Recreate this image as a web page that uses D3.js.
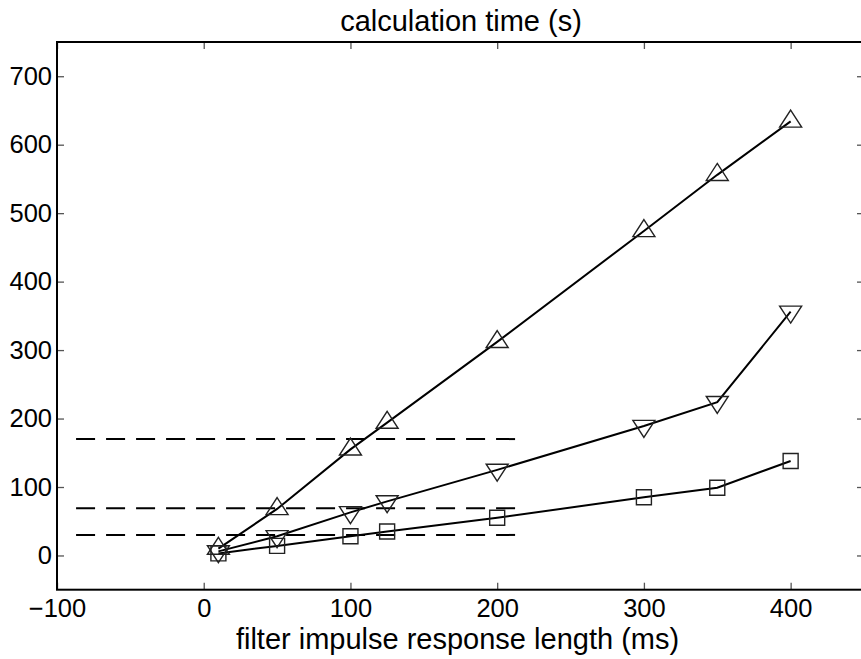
<!DOCTYPE html>
<html>
<head>
<meta charset="utf-8">
<script src="https://cdn.jsdelivr.net/npm/d3@7"></script>
<style>
  html, body { margin: 0; padding: 0; background: #fff; }
  svg { display: block; }
</style>
</head>
<body>
<div id="chart"></div>
<script>
// filter lengths (ms) and calculation times (s)
const lengthsMs = [10, 50, 100, 125, 200, 300, 350, 400];
const timesUp = [10, 68, 155, 194, 312, 474, 556, 634];
const timesDown = [6, 28, 63, 79, 125, 189, 224, 356];
const timesSquare = [3, 14, 28, 35, 55, 85, 99, 138];

// dashed reference levels and their horizontal extent
const dashLevels = [170, 69, 30];
const dashSpan = [-87, 217];

const xTicks = [-100, 0, 100, 200, 300, 400];
const yTicks = [0, 100, 200, 300, 400, 500, 600, 700];

const size = { width: 861, height: 659 };
const box = { left: 57, top: 42, right: 864, bottom: 589.7 };
const font = "'Liberation Sans', Arial, Helvetica, sans-serif";

const svg = d3
  .select("#chart")
  .append("svg")
  .attr("width", size.width)
  .attr("height", size.height);

const x = d3.scaleLinear().domain([-100, 450]).range([box.left, box.right]);
const y = d3.scaleLinear().domain([-50, 750]).range([box.bottom, box.top]);

// ticks on all four sides, pointing inward
const tickLen = 7;
const tickColor = "#555";

svg
  .append("g")
  .attr("transform", `translate(0, ${box.bottom})`)
  .call(
    d3.axisBottom(x).tickValues(xTicks).tickSize(-tickLen).tickPadding(9)
  )
  .call((g) => g.select(".domain").remove())
  .call((g) => g.selectAll("line").attr("stroke", tickColor).attr("stroke-width", 1.3))
  .call((g) =>
    g.selectAll("text").style("font-family", font).style("font-size", "25.5px").attr("fill", "#000")
  );

svg
  .append("g")
  .attr("transform", `translate(0, ${box.top})`)
  .call(d3.axisTop(x).tickValues(xTicks).tickSize(-tickLen).tickFormat(""))
  .call((g) => g.select(".domain").remove())
  .call((g) => g.selectAll("line").attr("stroke", tickColor).attr("stroke-width", 1.3));

svg
  .append("g")
  .attr("transform", `translate(${box.left}, 0)`)
  .call(d3.axisLeft(y).tickValues(yTicks).tickSize(-tickLen).tickPadding(5))
  .call((g) => g.select(".domain").remove())
  .call((g) => g.selectAll("line").attr("stroke", tickColor).attr("stroke-width", 1.3))
  .call((g) =>
    g.selectAll("text").style("font-family", font).style("font-size", "25.5px").attr("fill", "#000")
  );

svg
  .append("g")
  .attr("transform", `translate(${box.right}, 0)`)
  .call(d3.axisRight(y).tickValues(yTicks).tickSize(-tickLen).tickFormat(""))
  .call((g) => g.select(".domain").remove())
  .call((g) => g.selectAll("line").attr("stroke", tickColor).attr("stroke-width", 1.3));

// axes box
svg
  .append("rect")
  .attr("x", box.left)
  .attr("y", box.top)
  .attr("width", box.right - box.left)
  .attr("height", box.bottom - box.top)
  .attr("fill", "none")
  .attr("stroke", "#000")
  .attr("stroke-width", 2);

// dashed levels
svg
  .append("g")
  .selectAll("line")
  .data(dashLevels)
  .join("line")
  .attr("x1", x(dashSpan[0]))
  .attr("x2", x(dashSpan[1]))
  .attr("y1", (d) => y(d))
  .attr("y2", (d) => y(d))
  .attr("stroke", "#000")
  .attr("stroke-width", 2)
  .attr("stroke-dasharray", "19 11");

const series = [
  { key: "up", values: timesUp },
  { key: "down", values: timesDown },
  { key: "square", values: timesSquare },
];

const line = d3
  .line()
  .x((d, i) => x(lengthsMs[i]))
  .y((d) => y(d));

svg
  .append("g")
  .selectAll("path")
  .data(series)
  .join("path")
  .attr("d", (d) => line(d.values))
  .attr("fill", "none")
  .attr("stroke", "#000")
  .attr("stroke-width", 2);

// marker shapes, centred on the data point
const triW = 22;
const triH = 17;
const sq = 15;
const markerPath = {
  up: `M0,${(-2 * triH) / 3}L${triW / 2},${triH / 3}L${-triW / 2},${triH / 3}Z`,
  down: `M0,${(2 * triH) / 3}L${triW / 2},${-triH / 3}L${-triW / 2},${-triH / 3}Z`,
  square: `M${-sq / 2},${-sq / 2}h${sq}v${sq}h${-sq}Z`,
};

series.forEach((s) => {
  svg
    .append("g")
    .selectAll("path")
    .data(s.values)
    .join("path")
    .attr("transform", (d, i) => `translate(${x(lengthsMs[i])}, ${y(d)})`)
    .attr("d", markerPath[s.key])
    .attr("fill", "none")
    .attr("stroke", "#222")
    .attr("stroke-width", 1.4);
});

svg
  .append("text")
  .attr("x", 461)
  .attr("y", 31)
  .attr("text-anchor", "middle")
  .style("font-family", font)
  .style("font-size", "29px")
  .text("calculation time (s)");

svg
  .append("text")
  .attr("x", 457.5)
  .attr("y", 649)
  .attr("text-anchor", "middle")
  .style("font-family", font)
  .style("font-size", "29px")
  .text("filter impulse response length (ms)");
</script>
</body>
</html>
